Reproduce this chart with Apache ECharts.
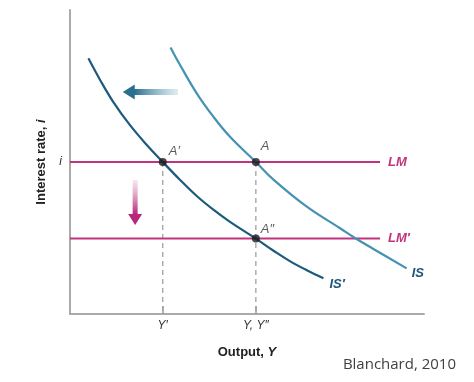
<!DOCTYPE html>
<html>
<head>
<meta charset="utf-8">
<script src="https://cdn.jsdelivr.net/npm/echarts@6/dist/echarts.min.js"></script>
<style>html,body{margin:0;padding:0;background:#fff}#c{width:474px;height:382px}</style>
</head>
<body>
<div id="c"></div>
<script>
// ---- data (abstract units: x 0..10, y 0..10) ----
const isPrimeX = [0.52, 0.85, 1.22, 1.69, 2.17, 2.62, 3.11, 3.58, 4.05, 4.52, 5.25, 5.74, 6.21, 6.69, 7.16];
const isPrimeY = [8.41, 7.70, 6.98, 6.22, 5.56, 5.00, 4.41, 3.88, 3.43, 3.03, 2.48, 2.09, 1.74, 1.44, 1.18];
const isX = [2.84, 3.11, 3.58, 4.05, 4.52, 5.25, 5.74, 6.69, 7.63, 8.05, 8.57, 9.51];
const isY = [8.77, 8.19, 7.26, 6.49, 5.83, 5.00, 4.43, 3.53, 2.82, 2.50, 2.14, 1.50];
const lmNames = ['LM', 'LM\u2032'];
const lmLevels = [5.00, 2.48];
const lmStartX = 0;
const lmEndX = 8.76;
const pointNames = ['A\u2032', 'A', 'A\u2033'];
const pointX = [2.62, 5.25, 5.25];
const pointY = [5.00, 5.00, 2.48];
const xTickValues = [2.62, 5.25];
const xTickLabels = ['Y\u2032', 'Y, Y\u2033'];
const yTickValues = [5.00];
const yTickLabels = ['i'];
// arrows: [tailX, tailY, headX, headY]
const leftArrow = [3.05, 7.30, 1.49, 7.30];
const downArrow = [1.84, 4.41, 1.84, 2.93];

const pairs = (xs, ys) => xs.map((x, i) => [x, ys[i]]);

const chart = echarts.init(document.getElementById('c'));

function arrowRenderer(headColor, tailColor, shaftW, headW, headL) {
  return function (params, api) {
    const p0 = api.coord([api.value(0), api.value(1)]);
    const p1 = api.coord([api.value(2), api.value(3)]);
    const dx = p1[0] - p0[0], dy = p1[1] - p0[1];
    const len = Math.sqrt(dx * dx + dy * dy);
    const ux = dx / len, uy = dy / len;
    const nx = -uy, ny = ux;
    const bx = p1[0] - ux * headL, by = p1[1] - uy * headL;
    const pts = [
      [p0[0] + nx * shaftW / 2, p0[1] + ny * shaftW / 2],
      [bx + nx * shaftW / 2, by + ny * shaftW / 2],
      [bx + nx * headW / 2, by + ny * headW / 2],
      [p1[0], p1[1]],
      [bx - nx * headW / 2, by - ny * headW / 2],
      [bx - nx * shaftW / 2, by - ny * shaftW / 2],
      [p0[0] - nx * shaftW / 2, p0[1] - ny * shaftW / 2]
    ];
    return {
      type: 'polygon',
      shape: { points: pts },
      style: {
        fill: new echarts.graphic.LinearGradient(p0[0], p0[1], bx, by, [
          { offset: 0, color: tailColor },
          { offset: 1, color: headColor }
        ], true)
      }
    };
  };
}

const labelFont = 'Liberation Sans, Arial, sans-serif';
const pointLabelOffsets = [[10, -13], [9, -18], [9, -12]];

const option = {
  animation: false,
  backgroundColor: '#ffffff',
  grid: { left: 70, right: 50, top: 10, bottom: 68 },
  xAxis: {
    type: 'value', min: 0, max: 10,
    axisLine: { show: true, lineStyle: { color: '#aaaaaa', width: 2 } },
    splitLine: { show: false },
    axisTick: { show: true, inside: true, length: 8, customValues: xTickValues, lineStyle: { color: '#999999', width: 1.5 } },
    axisLabel: {
      customValues: xTickValues,
      formatter: v => xTickLabels[xTickValues.indexOf(v)] || '',
      fontFamily: labelFont, fontStyle: 'italic', fontSize: 12, color: '#333', margin: 6
    },
    name: '{b|Output, }{bi|Y}',
    nameLocation: 'middle', nameGap: 32,
    nameTextStyle: {
      rich: {
        b: { fontFamily: labelFont, fontWeight: 'bold', fontSize: 13, color: '#222' },
        bi: { fontFamily: labelFont, fontWeight: 'bold', fontStyle: 'italic', fontSize: 13, color: '#222' }
      }
    }
  },
  yAxis: {
    type: 'value', min: 0, max: 10,
    axisLine: { show: true, lineStyle: { color: '#aaaaaa', width: 2 } },
    splitLine: { show: false },
    axisTick: { show: false },
    axisLabel: {
      customValues: yTickValues,
      formatter: v => yTickLabels[yTickValues.indexOf(v)] || '',
      fontFamily: labelFont, fontStyle: 'italic', fontSize: 12, color: '#333', margin: 8
    },
    name: '{b|Interest rate, }{bi|i}',
    nameLocation: 'middle', nameGap: 22, nameRotate: 90,
    nameTextStyle: {
      rich: {
        b: { fontFamily: labelFont, fontWeight: 'bold', fontSize: 13, color: '#222' },
        bi: { fontFamily: labelFont, fontWeight: 'bold', fontStyle: 'italic', fontSize: 13, color: '#222' }
      }
    }
  },
  series: [
    // dashed drop lines
    ...pointX.slice(0, 2).map((x, i) => ({
      type: 'line', data: [[x, pointY[i]], [x, 0]], symbol: 'none', z: 1,
      lineStyle: { color: '#a0a0a0', width: 1.3, type: [5, 4] }
    })),
    // LM lines
    ...lmLevels.map((lv, i) => ({
      type: 'line', data: [[lmStartX, lv], [lmEndX, lv]], symbol: 'none', z: 2,
      lineStyle: { color: '#c2337f', width: 2 },
      endLabel: {
        show: true, formatter: lmNames[i], distance: 8,
        fontFamily: labelFont, fontWeight: 'bold', fontStyle: 'italic', fontSize: 13, color: '#c2337f'
      }
    })),
    // IS curve
    {
      type: 'line', data: pairs(isX, isY), smooth: 0.4, symbol: 'none', z: 3,
      lineStyle: { color: '#4592b3', width: 2.2 },
      endLabel: {
        show: true, formatter: 'IS', distance: 5, offset: [0, 5],
        fontFamily: labelFont, fontWeight: 'bold', fontStyle: 'italic', fontSize: 13, color: '#1d5478'
      }
    },
    // IS' curve
    {
      type: 'line', data: pairs(isPrimeX, isPrimeY), smooth: 0.4, symbol: 'none', z: 3,
      lineStyle: { color: '#1b5b7e', width: 2.2 },
      endLabel: {
        show: true, formatter: 'IS\u2032', distance: 6, offset: [0, 6],
        fontFamily: labelFont, fontWeight: 'bold', fontStyle: 'italic', fontSize: 13, color: '#1d5478'
      }
    },
    // equilibrium points
    {
      type: 'scatter', z: 5, symbolSize: 8,
      itemStyle: { color: '#1a1a1a' },
      data: pointX.map((x, i) => ({
        value: [x, pointY[i]],
        label: {
          show: true, formatter: pointNames[i], position: pointLabelOffsets[i],
          fontFamily: labelFont, fontStyle: 'italic', fontSize: 13, color: '#333'
        }
      }))
    },
    // shift arrows
    {
      type: 'custom', z: 4, data: [leftArrow],
      renderItem: arrowRenderer('#2a6f90', 'rgba(200,224,234,0.6)', 6, 15, 12)
    },
    {
      type: 'custom', z: 4, data: [downArrow],
      renderItem: arrowRenderer('#b8287a', 'rgba(240,215,230,0.6)', 5, 14, 11)
    }
  ],
  graphic: [{
    type: 'text', right: 18, bottom: 10,
    style: { text: 'Blanchard, 2010', font: '15px "Open Sans", sans-serif', fill: '#404040' }
  }]
};
chart.setOption(option);
</script>
</body>
</html>
